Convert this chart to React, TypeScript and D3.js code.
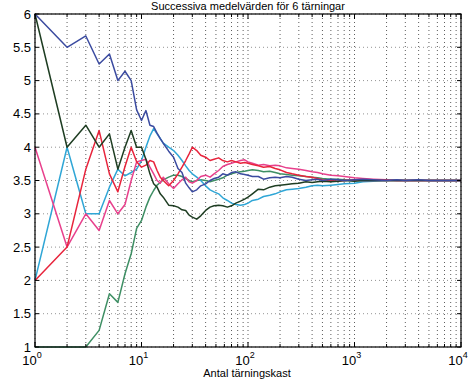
import React from "react";
import * as d3 from "d3";

// antal kast där medelvärdet avlästs
const rolls = [1, 2, 3, 4, 5, 6, 7, 8, 9, 10, 11, 12, 13, 14, 15, 16, 18, 20, 22, 24, 26, 28, 30, 33, 36, 40, 44, 48, 53, 58, 64, 70, 77, 85, 93, 100, 110, 125, 140, 160, 180, 200, 230, 260, 300, 350, 400, 450, 500, 600, 700, 800, 1000, 1200, 1500, 2000, 2500, 3000, 4000, 5000, 6500, 8000, 10000];

const blueMeans = [6, 5.5, 5.67, 5.25, 5.4, 5.0, 5.14, 5.0, 4.56, 4.4, 4.55, 4.33, 4.31, 4.21, 4.13, 4.06, 3.94, 3.85, 3.68, 3.62, 3.46, 3.39, 3.33, 3.36, 3.42, 3.45, 3.5, 3.53, 3.55, 3.6, 3.58, 3.62, 3.63, 3.6, 3.59, 3.58, 3.56, 3.56, 3.52, 3.54, 3.55, 3.54, 3.56, 3.55, 3.52, 3.5, 3.51, 3.52, 3.5, 3.52, 3.51, 3.5, 3.51, 3.52, 3.51, 3.5, 3.51, 3.5, 3.51, 3.5, 3.5, 3.5, 3.5];
const darkGreenMeans = [6, 4.0, 4.33, 4.0, 4.2, 3.67, 4.0, 4.25, 4.0, 4.0, 3.82, 3.6, 3.45, 3.4, 3.3, 3.25, 3.13, 3.12, 3.1, 3.06, 3.05, 2.98, 2.95, 2.92, 2.97, 3.05, 3.1, 3.12, 3.13, 3.12, 3.1, 3.12, 3.16, 3.19, 3.22, 3.25, 3.3, 3.37, 3.36, 3.4, 3.42, 3.43, 3.44, 3.45, 3.46, 3.48, 3.47, 3.48, 3.49, 3.48, 3.49, 3.5, 3.49, 3.5, 3.5, 3.5, 3.5, 3.5, 3.5, 3.5, 3.5, 3.5, 3.5];
const redMeans = [2, 2.5, 3.67, 4.25, 3.6, 3.33, 3.71, 4.0, 3.78, 3.7, 3.73, 3.8, 3.78, 3.65, 3.55, 3.5, 3.42, 3.5, 3.6, 3.7, 3.8, 3.9, 4.0, 3.95, 3.88, 3.85, 3.8, 3.82, 3.84, 3.8, 3.78, 3.8, 3.78, 3.76, 3.77, 3.76, 3.74, 3.72, 3.7, 3.71, 3.68, 3.66, 3.62, 3.6, 3.58, 3.56, 3.55, 3.53, 3.51, 3.5, 3.49, 3.5, 3.51, 3.5, 3.5, 3.5, 3.5, 3.5, 3.5, 3.5, 3.5, 3.5, 3.5];
const magentaMeans = [4, 2.5, 3.0, 2.75, 3.2, 3.0, 3.14, 3.5, 3.78, 3.8, 3.82, 3.7, 3.6, 3.5, 3.46, 3.55, 3.45, 3.38, 3.45, 3.51, 3.55, 3.48, 3.46, 3.5, 3.56, 3.58, 3.55, 3.6, 3.65, 3.71, 3.74, 3.76, 3.78, 3.8, 3.81, 3.78, 3.76, 3.73, 3.74, 3.72, 3.73, 3.72, 3.69, 3.68, 3.67, 3.65, 3.63, 3.62, 3.6, 3.58, 3.57, 3.56, 3.54, 3.53, 3.52, 3.51, 3.5, 3.5, 3.5, 3.5, 3.5, 3.5, 3.5];
const cyanMeans = [2, 4, 3.0, 3.0, 3.4, 3.67, 3.57, 3.62, 3.67, 3.8, 4.0, 4.17, 4.28, 4.2, 4.13, 4.06, 4.0, 3.95, 3.88, 3.8, 3.72, 3.65, 3.6, 3.55, 3.5, 3.42, 3.36, 3.33, 3.3, 3.24, 3.2, 3.16, 3.14, 3.13, 3.14, 3.16, 3.2, 3.22, 3.26, 3.28, 3.3, 3.33, 3.36, 3.37, 3.38, 3.4, 3.42, 3.43, 3.42, 3.43, 3.44, 3.45, 3.46, 3.48, 3.49, 3.5, 3.5, 3.5, 3.5, 3.5, 3.5, 3.5, 3.5];
const greenMeans = [1, 1, 1, 1.25, 1.8, 1.67, 2.1, 2.4, 2.78, 2.9, 3.1, 3.25, 3.35, 3.43, 3.47, 3.51, 3.55, 3.58, 3.58, 3.56, 3.53, 3.5, 3.48, 3.5, 3.51, 3.5, 3.48, 3.5, 3.52, 3.54, 3.58, 3.6, 3.62, 3.63, 3.64, 3.65, 3.66, 3.65, 3.63, 3.64, 3.62, 3.6, 3.59, 3.58, 3.57, 3.56, 3.55, 3.54, 3.53, 3.52, 3.52, 3.51, 3.5, 3.5, 3.5, 3.5, 3.5, 3.5, 3.5, 3.5, 3.5, 3.5, 3.5];

const series = [
    {name: "green", values: greenMeans, color: "#3e8f64"},
    {name: "cyan", values: cyanMeans, color: "#2fa6d6"},
    {name: "magenta", values: magentaMeans, color: "#e8408c"},
    {name: "red", values: redMeans, color: "#e8243c"},
    {name: "darkgreen", values: darkGreenMeans, color: "#1e3d22"},
    {name: "blue", values: blueMeans, color: "#3b4ba0"},
];

const yTicks = [1, 1.5, 2, 2.5, 3, 3.5, 4, 4.5, 5, 5.5, 6];
const xExponents = [0, 1, 2, 3, 4];

const width = 469;
const height = 380;
const margin = {top: 14, right: 8, bottom: 33, left: 35};

const App: React.FC = () => {
    const innerW = width - margin.left - margin.right;
    const innerH = height - margin.top - margin.bottom;

    const x = d3.scaleLog().domain([1, 10000]).range([0, innerW]);
    const y = d3.scaleLinear().domain([1, 6]).range([innerH, 0]);

    const line = d3.line<number>()
        .x((_, i) => x(rolls[i]))
        .y(d => y(d));

    const xTickVals = x.ticks();
    const isMajor = (v: number) => Math.abs(Math.log10(v) - Math.round(Math.log10(v))) < 1e-9;

    const font = "'Liberation Sans', Arial, Helvetica, sans-serif";

    return (
        <svg width={width} height={height} style={{position: "absolute", left: 0, top: 0, background: "#fff"}}
             fontFamily={font}>
            <text x={248} y={10} fontSize={11} textAnchor="middle">Successiva medelvärden för 6 tärningar</text>
            <g transform={`translate(${margin.left},${margin.top})`}>
                {/* rutnät */}
                {xTickVals.map(v => (
                    <line key={"gx" + v} x1={x(v)} x2={x(v)} y1={0} y2={innerH}
                          stroke="#333" strokeWidth={0.8} strokeDasharray="1,3"/>
                ))}
                {yTicks.map(v => (
                    <line key={"gy" + v} x1={0} x2={innerW} y1={y(v)} y2={y(v)}
                          stroke="#777" strokeWidth={0.8} strokeDasharray="1,3"/>
                ))}

                {series.map(s => (
                    <path key={s.name} d={line(s.values) ?? ""} fill="none" stroke={s.color}
                          strokeWidth={1.5} strokeLinejoin="round"/>
                ))}

                {/* axlar */}
                <rect x={0} y={0} width={innerW} height={innerH} fill="none" stroke="#000" strokeWidth={1.2}/>
                {xTickVals.map(v => {
                    const len = isMajor(v) ? 5 : 3;
                    return (
                        <g key={"tx" + v}>
                            <line x1={x(v)} x2={x(v)} y1={innerH} y2={innerH - len} stroke="#000"/>
                            <line x1={x(v)} x2={x(v)} y1={0} y2={len} stroke="#000"/>
                        </g>
                    );
                })}
                {yTicks.map(v => (
                    <g key={"ty" + v}>
                        <line x1={0} x2={4} y1={y(v)} y2={y(v)} stroke="#000"/>
                        <line x1={innerW} x2={innerW - 4} y1={y(v)} y2={y(v)} stroke="#000"/>
                        <text x={-4} y={y(v)} dy="0.35em" fontSize={13} textAnchor="end">{v}</text>
                    </g>
                ))}
                {xExponents.map(e => (
                    <text key={"lx" + e} x={x(Math.pow(10, e)) - 3} y={innerH + 18} fontSize={13} textAnchor="middle">
                        10<tspan dy={-7} fontSize={9}>{e}</tspan>
                    </text>
                ))}
                <text x={innerW / 2 - 1} y={innerH + 30} fontSize={11} textAnchor="middle">Antal tärningskast</text>
            </g>
        </svg>
    );
};

export default App;
